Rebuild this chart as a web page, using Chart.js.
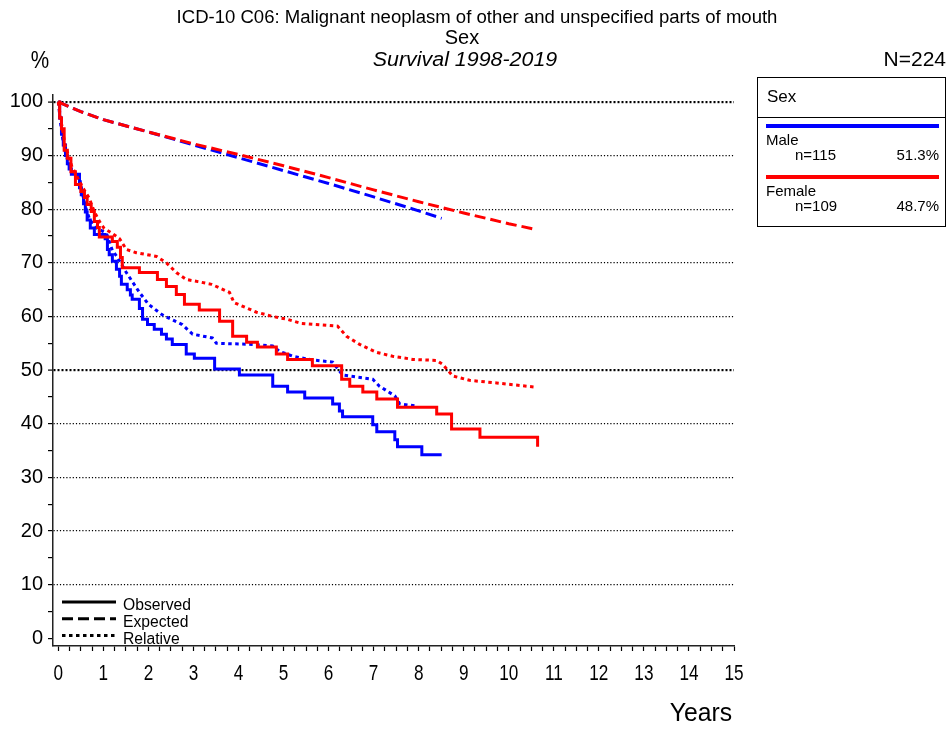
<!DOCTYPE html>
<html lang="en">
<head>
    <meta charset="UTF-8">
    <title>ICD-10 C06 survival by sex</title>
    <script src="https://cdn.jsdelivr.net/npm/chart.js"></script>
    <style>
        body { margin: 0; background: #fff; }
        #wrap { width: 949px; height: 729px; }
    </style>
</head>
<body>
<div id="wrap"><canvas id="survChart" width="949" height="729"></canvas></div>
<script>
    // axis ticks
    const yTicks = [0, 5, 10, 15, 20, 25, 30, 35, 40, 45, 50, 55, 60, 65, 70, 75, 80, 85, 90, 95, 100];
    const xLabels = [0, 1, 2, 3, 4, 5, 6, 7, 8, 9, 10, 11, 12, 13, 14, 15];

    // male - observed (Kaplan-Meier steps)
    const maleObsT = [0, 0.03, 0.07, 0.11, 0.16, 0.2, 0.24, 0.29, 0.47, 0.51, 0.56, 0.6, 0.64, 0.71, 0.8, 1.04, 1.09, 1.13, 1.2, 1.29, 1.36, 1.4, 1.53, 1.6, 1.64, 1.8, 1.87, 1.98, 2.13, 2.29, 2.4, 2.53, 2.84, 3.02, 3.47, 4.02, 4.76, 5.09, 5.47, 6.09, 6.24, 6.31, 6.98, 7.07, 7.47, 7.53, 8.07, 8.51];
    const maleObsV = [100, 97, 94, 92, 90, 88.5, 87.5, 86.5, 84, 82.7, 81, 79.5, 78, 76.5, 75.3, 74.5, 72.5, 71.5, 70.3, 68.8, 67.5, 66, 65, 64, 63.2, 61.5, 59.5, 58.5, 57.6, 56.7, 55.8, 54.8, 53, 52.2, 50.2, 49.1, 47, 45.9, 44.8, 43.7, 42.4, 41.3, 39.8, 38.5, 37, 35.7, 34.2, 34.2];

    // female - observed
    const femObsT = [0, 0.03, 0.07, 0.13, 0.2, 0.28, 0.38, 0.5, 0.58, 0.64, 0.73, 0.8, 0.87, 0.91, 1.2, 1.31, 1.38, 1.42, 1.8, 2.2, 2.4, 2.62, 2.8, 3.13, 3.58, 3.87, 4.18, 4.42, 4.84, 5.09, 5.64, 6.29, 6.47, 6.76, 7.07, 7.53, 8.4, 8.73, 9.36, 10.64];
    const femObsV = [100, 97, 95, 91, 89.5, 87, 84.6, 83.3, 82.2, 80.9, 79.6, 77.7, 76.6, 74.8, 74, 72.9, 71, 69.1, 68.2, 66.9, 65.6, 64.1, 62.3, 61.2, 59.1, 56.3, 55.2, 54.3, 53, 52, 50.8, 48.3, 47, 45.9, 44.6, 43.1, 41.8, 39, 37.5, 35.7];

    // expected
    const maleExpT = [0, 0.5, 1, 2, 3, 4, 5, 6, 7, 8, 8.51];
    const maleExpV = [100, 98.2, 96.7, 94.4, 92, 89.6, 87.2, 84.8, 82.3, 79.7, 78.3];
    const femExpT = [0, 0.5, 1, 2, 3, 4, 5, 6, 7, 8, 9, 10, 10.62];
    const femExpV = [100, 98.2, 96.7, 94.4, 92.2, 90.2, 88.1, 85.9, 83.6, 81.4, 79.3, 77.3, 76.2];

    // relative
    const maleRelT = [0, 0.05, 0.1, 0.16, 0.25, 0.3, 0.47, 0.52, 0.6, 0.7, 0.85, 1.07, 1.2, 1.3, 1.51, 1.8, 2.0, 2.29, 2.4, 2.75, 2.98, 3.42, 3.51, 4.31, 4.76, 4.91, 5.2, 5.64, 6.09, 6.31, 6.98, 7.13, 7.47, 7.58, 7.96];
    const maleRelV = [100, 96, 93, 90.5, 88, 87, 86, 83.5, 80.5, 78, 76.5, 75.5, 72.3, 71.2, 68.2, 64.5, 62.3, 60.4, 59.9, 58.5, 56.7, 56, 55, 54.8, 54.5, 53.5, 52.6, 51.9, 51.5, 49.1, 48.3, 47, 45.2, 43.7, 43.3];
    const femRelT = [0, 0.05, 0.15, 0.3, 0.53, 0.69, 0.8, 0.93, 1.02, 1.2, 1.36, 1.51, 1.73, 2.18, 2.4, 2.62, 2.84, 3.1, 3.4, 3.8, 3.9, 4.4, 4.76, 5.07, 5.4, 6.2, 6.4, 6.69, 7.07, 7.42, 7.87, 8.4, 8.53, 8.76, 9.13, 9.73, 10.62];
    const femRelV = [100, 97, 92, 88, 84.2, 82, 79.5, 77.5, 76.4, 75.5, 74.5, 72.5, 71.9, 71.2, 70, 68.2, 66.9, 66.5, 66, 64.5, 62.6, 60.8, 60, 59.5, 58.7, 58.2, 56.3, 54.8, 53.3, 52.6, 52, 51.8, 51.1, 48.9, 48.1, 47.6, 46.8];

    const groups = ['Male', 'Female'];
    const groupN = ['n=115', 'n=109'];
    const groupPct = ['51.3%', '48.7%'];

    const BLUE = '#0000ff';
    const RED = '#ff0000';
    const FONT = '"Liberation Sans", Arial, sans-serif';

    function pts(t, v) {
        return t.map((x, i) => ({ x: x, y: v[i] }));
    }

    // text helper: squeeze horizontally when sx < 1 (the original uses a narrow face)
    function txt(ctx, s, x, y, size, align, sx, italic) {
        ctx.save();
        ctx.font = (italic ? 'italic ' : '') + size + 'px ' + FONT;
        ctx.fillStyle = '#000';
        ctx.textBaseline = 'middle';
        ctx.textAlign = align || 'left';
        ctx.translate(x, y);
        ctx.scale(sx || 1, 1);
        ctx.fillText(s, 0, 0);
        ctx.restore();
    }

    const decorations = {
        id: 'decorations',
        afterDraw(chart) {
            const ctx = chart.ctx;
            const xs = chart.scales.x;

            // titles
            txt(ctx, 'ICD-10 C06: Malignant neoplasm of other and unspecified parts of mouth', 477, 18, 18, 'center', 1.03);
            txt(ctx, 'Sex', 462, 38, 20, 'center', 1.0);
            txt(ctx, 'Survival 1998-2019', 465, 60, 20, 'center', 1.07, true);
            txt(ctx, '%', 40, 62, 23, 'center', 0.9);
            txt(ctx, 'N=224', 946, 60, 20, 'right', 1.05);
            txt(ctx, 'Years', 732, 714, 26, 'right', 0.95);

            // x tick labels
            xLabels.forEach(v => {
                txt(ctx, String(v), xs.getPixelForValue(v), 674, 22, 'center', 0.78);
            });

            // group legend box
            ctx.save();
            ctx.strokeStyle = '#000';
            ctx.lineWidth = 1;
            ctx.strokeRect(757.5, 77.5, 188, 149);
            ctx.beginPath();
            ctx.moveTo(757, 117.5);
            ctx.lineTo(946, 117.5);
            ctx.stroke();
            ctx.restore();
            txt(ctx, 'Sex', 767, 97, 17, 'left');
            const cols = [BLUE, RED];
            groups.forEach((g, i) => {
                const y0 = 126 + i * 51;
                ctx.save();
                ctx.strokeStyle = cols[i];
                ctx.lineWidth = 4;
                ctx.beginPath();
                ctx.moveTo(766, y0);
                ctx.lineTo(939, y0);
                ctx.stroke();
                ctx.restore();
                txt(ctx, g, 766, y0 + 15, 15, 'left');
                txt(ctx, groupN[i], 795, y0 + 30, 15, 'left');
                txt(ctx, groupPct[i], 939, y0 + 30, 15, 'right');
            });

            // line style legend
            const styles = [[], [11, 5], [3.5, 3.5]];
            const names = ['Observed', 'Expected', 'Relative'];
            styles.forEach((d, i) => {
                const y0 = 602 + i * 16.8;
                ctx.save();
                ctx.strokeStyle = '#000';
                ctx.lineWidth = 3;
                ctx.setLineDash(d);
                ctx.beginPath();
                ctx.moveTo(62, y0);
                ctx.lineTo(116, y0);
                ctx.stroke();
                ctx.restore();
                txt(ctx, names[i], 123, y0 + 3.5, 16, 'left', 0.98);
            });
        }
    };

    function ds(label, t, v, color, dash, stepped) {
        return {
            label: label,
            data: pts(t, v),
            borderColor: color,
            backgroundColor: color,
            borderWidth: 3,
            borderDash: dash,
            borderCapStyle: 'butt',
            stepped: stepped,
            showLine: true,
            pointRadius: 0,
            tension: 0,
            fill: false
        };
    }

    const isBold = v => v === 50 || v === 100;

    new Chart(document.getElementById('survChart'), {
        type: 'scatter',
        data: {
            datasets: [
                ds('Female observed', femObsT, femObsV, RED, [], true),
                ds('Female expected', femExpT, femExpV, RED, [11, 5], false),
                ds('Female relative', femRelT, femRelV, RED, [3.5, 3.5], false),
                ds('Male observed', maleObsT, maleObsV, BLUE, [], true),
                ds('Male expected', maleExpT, maleExpV, BLUE, [11, 5], false),
                ds('Male relative', maleRelT, maleRelV, BLUE, [3.5, 3.5], false)
            ]
        },
        options: {
            responsive: false,
            animation: false,
            layout: { padding: { top: 95, right: 215, left: 0, bottom: 0 } },
            plugins: {
                legend: { display: false },
                title: { display: false },
                tooltip: { enabled: false }
            },
            scales: {
                x: {
                    type: 'linear',
                    min: -0.118,
                    max: 15,
                    afterBuildTicks: s => {
                        const tk = [];
                        for (let i = 0; i <= 60; i++) tk.push({ value: i * 0.25 });
                        s.ticks = tk;
                    },
                    afterFit: s => { s.height = 83; },
                    ticks: { autoSkip: false, maxRotation: 0, callback: () => '' },
                    grid: {
                        drawOnChartArea: false,
                        drawTicks: true,
                        tickLength: 5,
                        tickColor: '#000',
                        tickWidth: 1.2
                    },
                    border: { display: true, color: '#222', width: 1.5 }
                },
                y: {
                    min: -1.44,
                    max: 101.3,
                    afterBuildTicks: s => { s.ticks = yTicks.map(v => ({ value: v })); },
                    afterFit: s => { s.width = 53; },
                    ticks: {
                        autoSkip: false,
                        padding: 5,
                        color: '#000',
                        font: { family: FONT, size: 20 },
                        callback: v => (v % 10 === 0 ? String(v) : '')
                    },
                    grid: {
                        drawTicks: true,
                        tickLength: 5,
                        tickColor: '#000',
                        tickWidth: 1.2,
                        color: c => (c.tick && c.tick.value % 10 === 0 && c.tick.value > 0 ? '#000' : 'rgba(0,0,0,0)'),
                        lineWidth: c => (c.tick && isBold(c.tick.value) ? 2.2 : 1.2)
                    },
                    border: {
                        display: true,
                        color: '#222',
                        width: 1.5,
                        dash: c => (c.tick && isBold(c.tick.value) ? [2, 2] : [1.2, 2])
                    }
                }
            }
        },
        plugins: [decorations]
    });
</script>
</body>
</html>
